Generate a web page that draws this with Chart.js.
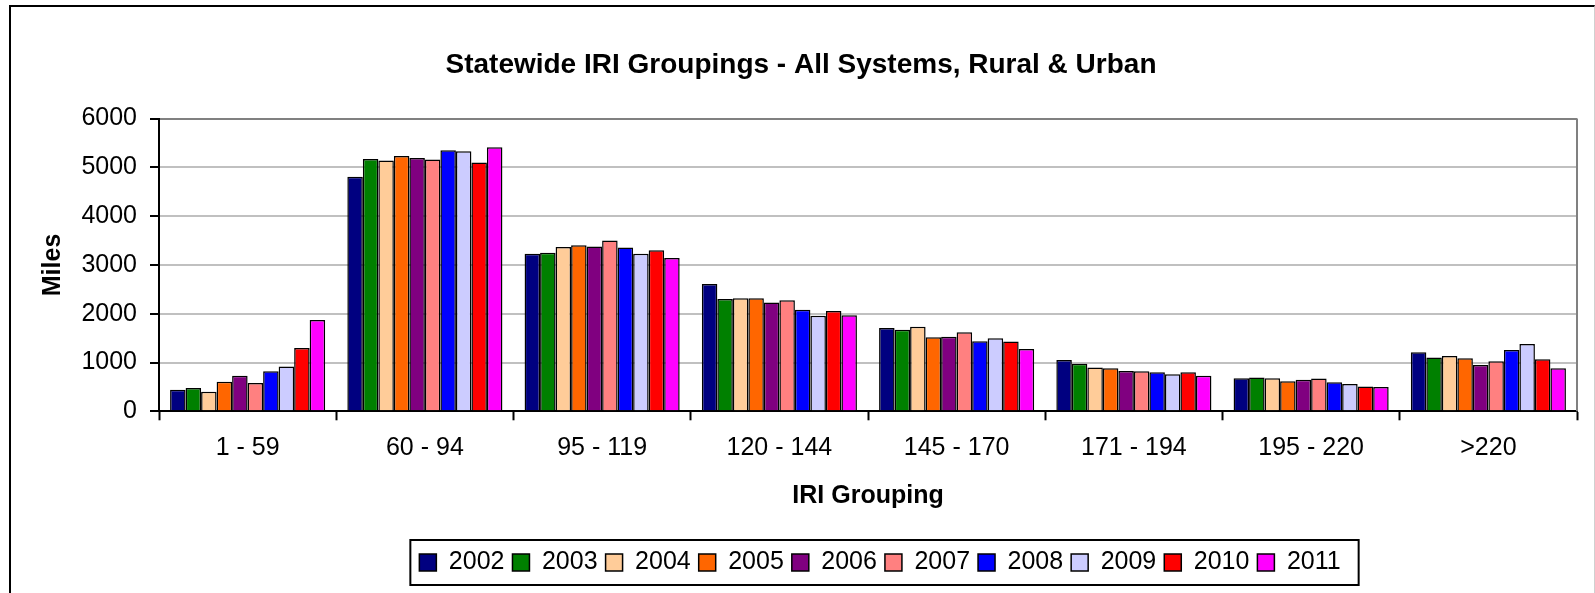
<!DOCTYPE html>
<html>
<head>
<meta charset="utf-8">
<script src="https://cdn.jsdelivr.net/npm/chart.js@4.4.1/dist/chart.umd.min.js"></script>
<style>
  html, body { margin: 0; padding: 0; background: #fff; overflow: hidden; }
  #frame { position: absolute; left: 9px; top: 5px; width: 1583px; height: 700px;
           border-left: 2px solid #000; border-top: 2px solid #000; border-right: 1px solid #d0d0d0; }
  #wrap { position: absolute; left: 0; top: 0; width: 1595px; height: 593px; }
</style>
</head>
<body>
<div id="frame"></div>
<div id="wrap"><canvas id="iriChart"></canvas></div>
<script>
// IRI groupings (x axis categories)
var categories = ['1 - 59', '60 - 94', '95 - 119', '120 - 144', '145 - 170', '171 - 194', '195 - 220', '>220'];
var years = ['2002', '2003', '2004', '2005', '2006', '2007', '2008', '2009', '2010', '2011'];

// miles per grouping, one array per year
var miles2002 = [440, 4810, 3230, 2610, 1710, 1050, 680, 1210];
var miles2003 = [480, 5170, 3250, 2300, 1670, 975, 695, 1105];
var miles2004 = [400, 5140, 3370, 2315, 1735, 900, 675, 1135];
var miles2005 = [605, 5235, 3405, 2315, 1520, 880, 615, 1090];
var miles2006 = [730, 5190, 3380, 2230, 1530, 825, 645, 950];
var miles2007 = [580, 5160, 3500, 2275, 1620, 820, 670, 1025];
var miles2008 = [820, 5350, 3360, 2080, 1435, 800, 595, 1255];
var miles2009 = [920, 5330, 3230, 1960, 1495, 760, 560, 1380];
var miles2010 = [1300, 5100, 3300, 2055, 1430, 800, 510, 1065];
var miles2011 = [1870, 5415, 3145, 1970, 1275, 730, 500, 885];

var seriesValues = [miles2002, miles2003, miles2004, miles2005, miles2006,
                    miles2007, miles2008, miles2009, miles2010, miles2011];
var seriesColors = ['#000080', '#008000', '#FFCC99', '#FF6600', '#800080',
                    '#FF8080', '#0000FF', '#CCCCFF', '#FF0000', '#FF00FF'];

var FONT = "'Liberation Sans', Arial, sans-serif";

var datasets = years.map((year, i) => ({
    label: year,
    data: seriesValues[i],
    backgroundColor: seriesColors[i],
    borderColor: '#000',
    borderWidth: 1.5,
    categoryPercentage: 0.875,
    barPercentage: 1.0
}));

// gray frame on the right of the plot, box round the legend
var framePlugin = {
    id: 'framePlugin',
    beforeDraw(chart) {
        var legend = chart.legend;
        var boxes = legend.legendHitBoxes;
        if (!boxes || !boxes.length) return;
        var first = boxes[0], last = boxes[boxes.length - 1];
        var center = (first.left + last.left + last.width) / 2;
        var dx = 880 - center;
        legend.left += dx;
        legend.right += dx;
        boxes.forEach(b => { b.left += dx; });
    },
    afterDraw(chart) {
        var ctx = chart.ctx;
        var area = chart.chartArea;
        ctx.save();
        ctx.strokeStyle = '#808080';
        ctx.lineWidth = 2;
        ctx.beginPath();
        ctx.moveTo(area.right, area.top);
        ctx.lineTo(area.right, area.bottom);
        ctx.stroke();

        var boxes = chart.legend.legendHitBoxes;
        var first = boxes[0], last = boxes[boxes.length - 1];
        var x0 = first.left - 9, x1 = last.left + last.width + 18;
        var y0 = first.top - 10, y1 = first.top + first.height + 10;
        ctx.strokeStyle = '#000';
        ctx.lineWidth = 2;
        ctx.strokeRect(x0, y0, x1 - x0, y1 - y0);
        ctx.restore();
    }
};

var CHART = new Chart(document.getElementById('iriChart'), {
    type: 'bar',
    data: { labels: categories, datasets: datasets },
    options: {
        responsive: true,
        maintainAspectRatio: false,
        animation: false,
        devicePixelRatio: 1,
        layout: { padding: { top: 5, left: 25, right: 18, bottom: 8 } },
        plugins: {
            title: {
                display: true,
                text: 'Statewide IRI Groupings - All Systems, Rural & Urban',
                color: '#000',
                font: { family: FONT, size: 28, weight: 'bold' },
                padding: { top: 43, bottom: 37 }
            },
            legend: {
                position: 'bottom',
                fullSize: false,
                labels: {
                    color: '#000',
                    font: { family: FONT, size: 25 },
                    boxWidth: 17,
                    boxHeight: 17,
                    padding: 8
                }
            },
            tooltip: { enabled: false }
        },
        scales: {
            x: {
                offset: true,
                grid: {
                    display: true,
                    drawOnChartArea: false,
                    drawTicks: true,
                    tickLength: 9,
                    tickColor: '#000',
                    tickWidth: 2
                },
                border: { display: true, color: '#000', width: 2 },
                ticks: { color: '#000', font: { family: FONT, size: 25 }, padding: 13, maxRotation: 0 },
                title: {
                    display: true,
                    text: 'IRI Grouping',
                    color: '#000',
                    font: { family: FONT, size: 25, weight: 'bold' },
                    padding: { top: 4, bottom: 31 }
                },
                afterFit(scale) { scale.height = 130.7; }
            },
            y: {
                min: 0,
                max: 6000,
                ticks: {
                    stepSize: 1000,
                    color: '#000',
                    font: { family: FONT, size: 25 },
                    padding: 13,
                    callback: value => String(value)
                },
                grid: {
                    color: ctx => ctx.tick && ctx.tick.value === 6000 ? '#808080'
                                 : (ctx.tick && ctx.tick.value === 0 ? 'rgba(0,0,0,0)' : '#c0c0c0'),
                    lineWidth: 2,
                    tickLength: 9,
                    tickColor: '#000',
                    tickWidth: 2
                },
                border: { display: true, color: '#000', width: 2 },
                title: {
                    display: true,
                    text: 'Miles',
                    color: '#000',
                    font: { family: FONT, size: 25, weight: 'bold' },
                    padding: { top: 13, bottom: 4 }
                },
                afterFit(scale) { scale.width = 134; }
            }
        }
    },
    plugins: [framePlugin]
});
</script>
</body>
</html>
